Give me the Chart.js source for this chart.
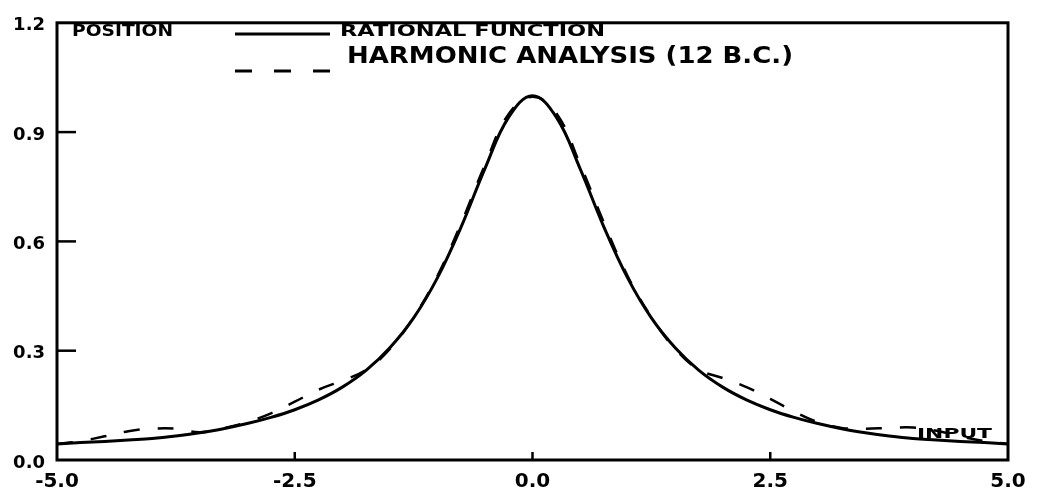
<!DOCTYPE html>
<html>
<head>
<meta charset="utf-8">
<script src="https://cdn.jsdelivr.net/npm/chart.js@4/dist/chart.umd.min.js"></script>
<style>
  html, body { margin: 0; padding: 0; background: #fff; }
  #wrap { width: 1044px; height: 495px; }
</style>
</head>
<body>
<div id="wrap"><canvas id="chart-runge"></canvas></div>
<script>
// sample positions along the input axis
const inputs = [-5, -4.75, -4.5, -4.25, -4, -3.75, -3.5, -3.25, -3, -2.75, -2.5, -2.25, -2, -1.75, -1.5, -1.25, -1, -0.75, -0.5, -0.25,
  0, 0.25, 0.5, 0.75, 1, 1.25, 1.5, 1.75, 2, 2.25, 2.5, 2.75, 3, 3.25, 3.5, 3.75, 4, 4.25, 4.5, 4.75, 5];

// solid curve (rational function)
const rational = [0.044, 0.048, 0.051, 0.055, 0.059, 0.066, 0.075, 0.086, 0.100, 0.117, 0.138, 0.165, 0.200, 0.246, 0.308, 0.390, 0.500, 0.640, 0.800, 0.941,
  1.000, 0.941, 0.800, 0.640, 0.500, 0.390, 0.308, 0.246, 0.200, 0.165, 0.138, 0.117, 0.100, 0.086, 0.075, 0.066, 0.059, 0.055, 0.051, 0.048, 0.044];

// dashed curve (harmonic analysis, 12 b.c.)
const harmonic = [0.044, 0.052, 0.065, 0.079, 0.086, 0.086, 0.076, 0.087, 0.104, 0.128, 0.160, 0.193, 0.218, 0.247, 0.305, 0.392, 0.505, 0.650, 0.810, 0.950,
  0.997, 0.952, 0.812, 0.652, 0.505, 0.392, 0.305, 0.248, 0.225, 0.200, 0.168, 0.133, 0.104, 0.088, 0.086, 0.088, 0.089, 0.080, 0.065, 0.052, 0.044];

const xTicks = [-5, -2.5, 0, 2.5, 5];
const yTicks = [0, 0.3, 0.6, 0.9, 1.2];

const FONT = '"DejaVu Sans", "Liberation Sans", Arial, sans-serif';

function toPoints(ys) {
  return inputs.map((x, i) => ({ x, y: ys[i] }));
}

// draws text stretched to a given width (the original lettering is wide)
function wideText(ctx, text, left, midY, size, width) {
  ctx.save();
  ctx.font = 'bold ' + size + 'px ' + FONT;
  ctx.textBaseline = 'middle';
  ctx.textAlign = 'left';
  const w = ctx.measureText(text).width;
  ctx.translate(left, midY);
  ctx.scale(width / w, 1);
  ctx.fillText(text, 0, 0);
  ctx.restore();
}

const framePlugin = {
  id: 'frame',
  afterDraw(chart) {
    const { ctx, chartArea: a, scales } = chart;
    ctx.save();
    ctx.fillStyle = '#000';
    ctx.strokeStyle = '#000';

    // box round the plot
    ctx.lineWidth = 3;
    ctx.strokeRect(a.left, a.top, a.right - a.left, a.bottom - a.top);

    // inner ticks
    ctx.lineWidth = 2.5;
    xTicks.slice(1, -1).forEach(v => {
      const px = scales.x.getPixelForValue(v);
      ctx.beginPath(); ctx.moveTo(px, a.bottom); ctx.lineTo(px, a.bottom - 8); ctx.stroke();
    });
    yTicks.slice(1, -1).forEach(v => {
      const py = scales.y.getPixelForValue(v);
      ctx.beginPath(); ctx.moveTo(a.left, py); ctx.lineTo(a.left + 19, py); ctx.stroke();
    });

    // axis names
    wideText(ctx, 'POSITION', 72, 32, 16, 101);
    wideText(ctx, 'INPUT', 917, 434, 14, 75);

    // legend
    ctx.lineWidth = 3;
    ctx.beginPath(); ctx.moveTo(235, 34); ctx.lineTo(330, 34); ctx.stroke();
    wideText(ctx, 'RATIONAL FUNCTION', 340, 32, 16, 265);

    ctx.lineWidth = 3;
    ctx.setLineDash([17, 22]);
    ctx.beginPath(); ctx.moveTo(235, 71); ctx.lineTo(330, 71); ctx.stroke();
    ctx.setLineDash([]);
    wideText(ctx, 'HARMONIC ANALYSIS (12 B.C.)', 347, 57, 23, 446);
    ctx.restore();
  }
};

new Chart(document.getElementById('chart-runge').getContext('2d'), {
  type: 'line',
  data: {
    datasets: [
      {
        label: 'RATIONAL FUNCTION',
        data: toPoints(rational),
        borderColor: '#000',
        borderWidth: 3,
        pointRadius: 0,
        tension: 0.4,
        fill: false
      },
      {
        label: 'HARMONIC ANALYSIS (12 B.C.)',
        data: toPoints(harmonic),
        borderColor: '#000',
        borderWidth: 2.5,
        borderDash: [16, 18],
        pointRadius: 0,
        tension: 0.4,
        fill: false
      }
    ]
  },
  plugins: [framePlugin],
  options: {
    responsive: true,
    maintainAspectRatio: false,
    animation: false,
    layout: { padding: { top: 15, right: 36, left: 0, bottom: 0 } },
    plugins: { legend: { display: false }, tooltip: { enabled: false } },
    scales: {
      x: {
        type: 'linear',
        min: -5,
        max: 5,
        afterBuildTicks: s => { s.ticks = xTicks.map(v => ({ value: v })); },
        afterFit: s => { s.height = 35; },
        grid: { display: false, drawTicks: false },
        border: { display: false },
        ticks: {
          color: '#000',
          padding: 10,
          maxRotation: 0,
          font: { family: FONT, size: 20, weight: 'bold' },
          callback: v => v.toFixed(1)
        }
      },
      y: {
        min: 0,
        max: 1.2,
        afterBuildTicks: s => { s.ticks = yTicks.map(v => ({ value: v })); },
        afterFit: s => { s.width = 57; },
        grid: { display: false, drawTicks: false },
        border: { display: false },
        ticks: {
          color: '#000',
          padding: 12,
          labelOffset: 3,
          font: { family: FONT, size: 18, weight: 'bold' },
          callback: v => v.toFixed(1)
        }
      }
    }
  }
});
</script>
</body>
</html>
